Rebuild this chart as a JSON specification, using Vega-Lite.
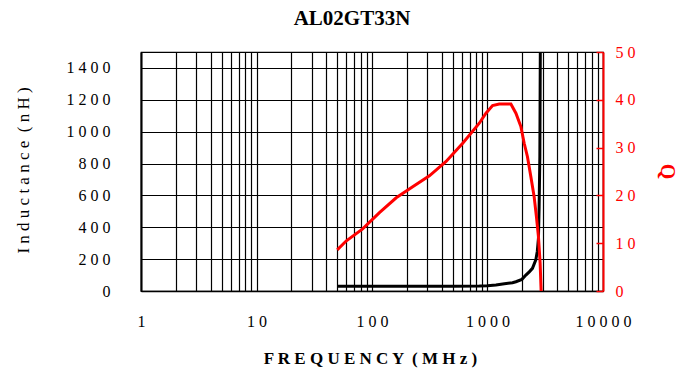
{
  "$schema": "https://vega.github.io/schema/vega-lite/v6.json",
  "width": 462,
  "height": 239,
  "autosize": {"type": "none"},
  "padding": {"left": 141, "top": 52, "right": 77, "bottom": 84},
  "background": "white",
  "config": {"view": {"stroke": "black", "strokeWidth": 1.2}},
  "title": {"text": "AL02GT33N", "font": "Liberation Serif", "fontSize": 21, "fontWeight": "bold", "color": "black", "offset": 15, "dx": -20, "anchor": "middle"},
  "datasets": {
    "ind": [
      {"f": 50, "L": 30}, {"f": 200, "L": 30}, {"f": 500, "L": 30}, {"f": 850, "L": 31},
      {"f": 1000, "L": 33}, {"f": 1183, "L": 38}, {"f": 1400, "L": 45}, {"f": 1646, "L": 52},
      {"f": 1762, "L": 58}, {"f": 1986, "L": 73}, {"f": 2148, "L": 100}, {"f": 2300, "L": 120},
      {"f": 2450, "L": 142}, {"f": 2620, "L": 195}, {"f": 2700, "L": 250}, {"f": 2761, "L": 330},
      {"f": 2799, "L": 528}, {"f": 2839, "L": 842}, {"f": 2856, "L": 1260}, {"f": 2870, "L": 1600}
    ],
    "q": [
      {"f": 50, "Q": 8.6}, {"f": 60, "Q": 10.5}, {"f": 83, "Q": 13.0}, {"f": 116, "Q": 16.4},
      {"f": 162, "Q": 19.5}, {"f": 225, "Q": 21.8}, {"f": 314, "Q": 24.1}, {"f": 438, "Q": 27.1},
      {"f": 610, "Q": 30.9}, {"f": 849, "Q": 35.1}, {"f": 970, "Q": 37.2}, {"f": 1106, "Q": 38.8},
      {"f": 1263, "Q": 39.1}, {"f": 1594, "Q": 39.1}, {"f": 1762, "Q": 37.2}, {"f": 1945, "Q": 34.4},
      {"f": 2078, "Q": 30.9}, {"f": 2218, "Q": 28.1}, {"f": 2374, "Q": 23.9}, {"f": 2535, "Q": 19.7},
      {"f": 2653, "Q": 15.5}, {"f": 2761, "Q": 11.4}, {"f": 2856, "Q": 5.8}, {"f": 2913, "Q": 0}
    ]
  },
  "encoding": {
    "x": {
      "field": "f",
      "type": "quantitative",
      "scale": {"type": "log", "domain": [1, 10000]},
      "axis": {
        "title": "F R E Q U E N C Y \u00a0( M H z )",
        "values": [1,2,3,4,5,6,7,8,9,10,20,30,40,50,60,70,80,90,100,200,300,400,500,600,700,800,900,1000,2000,3000,4000,5000,6000,7000,8000,9000,10000],
        "grid": true,
        "gridColor": "black",
        "gridWidth": 1.2,
        "gridOpacity": 1,
        "ticks": false,
        "domain": true,
        "domainColor": "black",
        "domainWidth": 1.5,
        "labelExpr": "datum.value == 1 ? '1' : datum.value == 10 ? '1 0' : datum.value == 100 ? '1 0 0' : datum.value == 1000 ? '1 0 0 0' : datum.value == 10000 ? '1 0 0 0 0' : ''",
        "labelFont": "Liberation Serif",
        "labelFontSize": 16,
        "labelColor": "black",
        "labelPadding": 22,
        "labelFlush": false,
        "labelOverlap": false,
        "titleFont": "Liberation Serif",
        "titleFontSize": 17,
        "titleFontWeight": "bold",
        "titleColor": "black",
        "titleX": 229,
        "titleY": 67,
        "titleBaseline": "middle",
        "titleAlign": "center"
      }
    }
  },
  "layer": [
    {
      "data": {"name": "ind"},
      "mark": {"type": "line", "color": "black", "strokeWidth": 3, "clip": true},
      "encoding": {
        "y": {
          "field": "L",
          "type": "quantitative",
          "scale": {"domain": [0, 1500], "nice": false},
          "axis": {
            "orient": "left",
            "values": [0, 200, 400, 600, 800, 1000, 1200, 1400],
            "title": "I n d u c t a n c e \u00a0( n H )",
            "grid": true,
            "gridColor": "black",
            "gridWidth": 1.2,
            "gridOpacity": 1,
            "ticks": false,
            "domain": true,
            "domainColor": "black",
            "domainWidth": 2,
            "labelFont": "Liberation Serif",
            "labelFontSize": 16,
            "labelColor": "black",
            "labelPadding": 31,
            "labelExpr": "datum.value == 0 ? '0' : datum.value == 200 ? '2 0 0' : datum.value == 400 ? '4 0 0' : datum.value == 600 ? '6 0 0' : datum.value == 800 ? '8 0 0' : datum.value == 1000 ? '1 0 0 0' : datum.value == 1200 ? '1 2 0 0' : '1 4 0 0'",
            "titleFont": "Liberation Serif",
            "titleFontSize": 17,
            "titleFontWeight": "normal",
            "titleColor": "black",
            "titleX": -118,
            "titleY": 118,
            "titleAngle": -90,
            "titleBaseline": "middle",
            "titleAlign": "center"
          }
        }
      }
    },
    {
      "data": {"name": "q"},
      "mark": {"type": "line", "color": "#ff0000", "strokeWidth": 3, "clip": true},
      "encoding": {
        "y": {
          "field": "Q",
          "type": "quantitative",
          "scale": {"domain": [0, 50], "nice": false},
          "axis": {
            "orient": "right",
            "values": [0, 10, 20, 30, 40, 50],
            "title": "Q",
            "grid": false,
            "domain": true,
            "domainColor": "#ff0000",
            "domainWidth": 2,
            "ticks": true,
            "tickColor": "#ff0000",
            "tickSize": -7,
            "tickWidth": 1.5,
            "labelFont": "Liberation Serif",
            "labelFontSize": 16,
            "labelColor": "#ff0000",
            "labelPadding": 19,
            "labelExpr": "datum.value == 0 ? '0' : datum.value == 10 ? '1 0' : datum.value == 20 ? '2 0' : datum.value == 30 ? '3 0' : datum.value == 40 ? '4 0' : '5 0'",
            "titleFont": "Liberation Serif",
            "titleFontSize": 20,
            "titleColor": "#ff0000",
            "titleX": 63,
            "titleY": 119,
            "titleAngle": 90,
            "titleBaseline": "middle",
            "titleAlign": "center"
          }
        }
      }
    }
  ],
  "resolve": {"scale": {"y": "independent"}, "axis": {"y": "independent"}}
}
